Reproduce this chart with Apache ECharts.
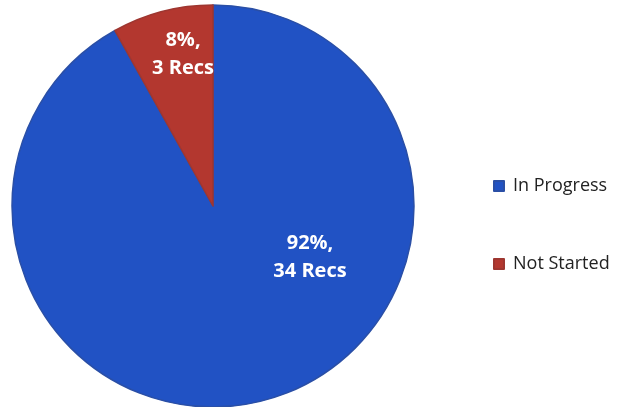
<!DOCTYPE html>
<html><head><meta charset="utf-8">
<script src="https://cdn.jsdelivr.net/npm/echarts@6/dist/echarts.min.js"></script>
<style>html,body{margin:0;padding:0;background:#fff}#c{width:619px;height:407px}</style>
</head><body><div id="c"></div>
<script>
const categories = ["In Progress", "Not Started"];
const recs = [34, 3];
const percents = [92, 8];
const colors = ["#2152C4", "#B3372F"];
const borders = ["#2A4FA6", "#9E3630"];

const chart = echarts.init(document.getElementById('c'), null, {renderer: 'canvas'});
const labelPos = [[310, 257], [183, 54]];
chart.setOption({
  animation: false,
  legend: {
    orient: 'vertical',
    left: 488, top: 172,
    itemWidth: 10, itemHeight: 10, itemGap: 60,
    icon: 'rect',
    textStyle: {fontFamily: 'Open Sans', fontSize: 18, color: '#222', padding: [0,0,0,4]},
    data: categories
  },
  series: [{
    type: 'pie',
    center: [213, 206],
    radius: 201,
    startAngle: 90,
    clockwise: true,
    label: {
      position: 'inside',
      color: '#fff',
      fontFamily: 'Open Sans',
      fontWeight: 'bold',
      fontSize: 20,
      lineHeight: 28,
      formatter: p => percents[p.dataIndex] + '%,\n' + recs[p.dataIndex] + ' Recs'
    },
    labelLayout: p => ({x: labelPos[p.dataIndex][0], y: labelPos[p.dataIndex][1], align: 'center', verticalAlign: 'middle'}),
    labelLine: {show: false},
    emphasis: {disabled: true},
    data: categories.map((c, i) => ({
      name: c, value: recs[i],
      itemStyle: {color: colors[i], borderColor: borders[i], borderWidth: 1.5}
    }))
  }]
});
</script></body></html>
